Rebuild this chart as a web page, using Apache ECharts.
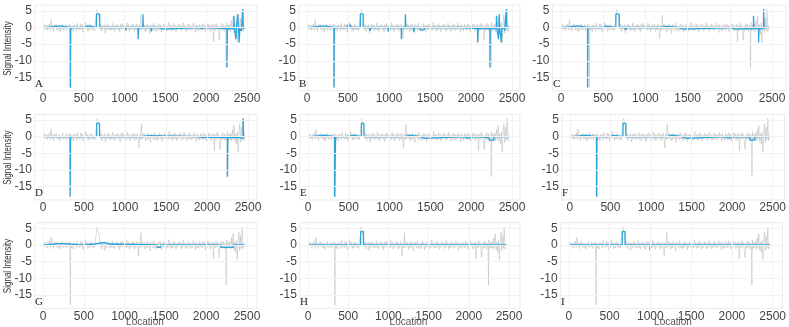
<!DOCTYPE html>
<html>
<head>
<meta charset="utf-8">
<title>Signal Intensity</title>
<script src="https://cdn.jsdelivr.net/npm/echarts@6/dist/echarts.min.js"></script>
<style>
html, body { margin: 0; padding: 0; background: #fff; }
#main { width: 789px; height: 327px; }
</style>
</head>
<body>
<div id="main"></div>
<script>
// raw signal (gray), one reading every 10 locations from 0
var rawStep = 10;
var rawNoise = [
    0.2, -0.6, 0.9, -0.3, 0.5, -1.0, 0.7, -0.4, 1.2, -0.8,     // 0
    2.3, -0.5, 0.6, -1.1, 0.8, -0.2, 1.0, -0.7, 0.4, -0.9,     // 100
    0.6, -1.3, 0.3, -0.5, 1.1, -0.8, 0.2, -0.6, 0.9, -1.0,     // 200
    0.5, -0.4, 1.0, -2.6, 0.7, -0.9, 0.4, -1.2, 0.8, -0.3,     // 300
    0.6, -1.0, 1.3, -0.5, 0.2, -0.8, 1.1, -0.6, 0.9, -1.4,     // 400
    0.4, -0.7, 1.5, -0.3, 0.8, -1.1, 0.5, -0.9, 1.0, -0.5,     // 500
    0.7, -0.8, 0.3, -1.0, 1.2, 2.6, 5.4, 4.5, 3.6, 2.2,        // 600
    -0.6, 1.0, -1.2, 0.5, -0.4, 0.9, -1.6, 0.6, -0.8, 1.1,     // 700
    -0.5, 0.8, -1.0, 0.4, -0.7, 1.3, -0.9, 0.6, -1.2, 0.7,     // 800
    -0.3, 1.0, -0.8, 0.5, -1.5, 0.9, -0.6, 1.2, -0.4, 0.7,     // 900
    -1.1, 0.5, -0.9, 1.4, -0.6, 0.8, -1.3, 0.4, -0.7, 1.0,     // 1000
    -0.5, 0.9, -1.2, 0.6, -0.8, 1.1, -0.4, -3.3, 0.7, -0.9,    // 1100
    3.7, -0.7, 1.0, -0.5, 0.8, -1.3, 0.6, -0.9, 1.2, -0.6,     // 1200
    0.5, -1.8, 0.9, -0.4, 0.7, -1.0, 1.3, -0.8, 0.4, -1.2,     // 1300
    0.6, -0.9, 1.1, -0.5, 0.8, -1.4, 0.5, -0.7, 1.0, -0.6,     // 1400
    0.9, -1.1, 0.4, -0.8, 1.6, -0.5, 0.7, -1.0, 0.6, -0.9,     // 1500
    1.2, -0.6, 0.8, -1.3, 0.5, -0.7, 1.0, -0.4, 0.9, -1.1,     // 1600
    0.6, -0.8, 1.4, -0.5, 0.7, -1.2, 0.4, -0.9, 1.1, -0.6,     // 1700
    0.8, -1.0, 0.5, -0.7, 1.3, -0.4, 0.6, -1.5, 0.9, -0.8,     // 1800
    0.4, -1.1, 1.0, -0.6, 0.7, -0.9, 1.2, -0.5, 0.8, -1.3,     // 1900
    0.5, -0.8, 1.1, -0.4, 0.9, -1.2, 0.6, -0.7, 1.0, -4.2,     // 2000
    0.7, -0.9, 1.3, -0.6, 0.8, -1.4, -3.8, 0.5, -1.0, 1.2,     // 2100
    -0.7, 0.9, -1.2, 0.6, -0.5, 1.5, -1.1, 0.8, -0.9, 1.1,     // 2200
    -1.3, 2.2, -0.8, 3.4, -1.5, 0.9, -2.2, 1.4, -4.5, 1.0,     // 2300
    3.9, -1.7, 2.8, -1.0, 5.4, -1.2, 0.6                       // 2400
];
var rawSpikeLoc = [335, 2245];
var rawSpikeVal = [-18, -12];

// fitted signal (blue): [location, level], level holds until the next location
var fitA = [[0,0],[50,0.5],[210,0],[335,-18],[340,0],[490,0.5],[550,0],[655,4],[695,0],
    [1010,-1],[1020,0],[1165,-3.5],[1170,0],[1225,4],[1230,0],[1325,-1.2],[1335,0],
    [1410,-0.5],[1470,0],[1900,-0.3],[1950,0],[2000,-0.3],[2255,-12],[2260,-0.3],
    [2340,3.5],[2345,-0.3],[2365,-3.5],[2370,-0.3],[2385,4],[2395,-0.3],[2405,-4.5],
    [2412,-0.3],[2432,-1],[2450,5.5],[2455,-0.3],[2470,-0.3]];
var fitB = [[0,0],[40,0.5],[200,0],[328,-18],[333,0],[495,0.7],[530,0],[650,4],[685,0],
    [765,-1],[785,0],[990,-1.2],[1005,0],[1150,-3.5],[1155,0],[1200,4],[1205,0],
    [1300,-1.3],[1315,0],[1380,-0.7],[1430,0],[1900,-0.3],[2080,-4.5],[2087,-0.3],
    [2230,-12],[2235,-0.3],[2310,3.5],[2315,-0.3],[2335,-3.5],[2345,4],[2350,-0.3],
    [2370,-4.5],[2377,-0.3],[2410,-1],[2430,5.5],[2436,0],[2470,0]];
var fitC = [[0,0],[50,0.5],[200,0],[315,-18],[320,0],[480,0.4],[530,0],[650,4],[690,0],
    [760,-0.7],[780,0],[1180,0.3],[1250,0],[1390,-0.5],[1450,0],[2000,-0.5],[2060,-0.3],
    [2280,3.5],[2285,-0.3],[2340,-4.5],[2346,-0.3],[2400,5.5],[2406,0],[2470,0]];
var fitD = [[0,0],[330,-18],[335,0],[655,4],[690,0],[1200,0.3],[1300,0],[1880,-0.3],
    [1960,-0.1],[2000,-0.3],[2250,-12],[2255,-0.3],[2390,-0.5],[2440,5.5],[2447,0],[2470,0]];
var fitE = [[0,0],[40,0.5],[200,0],[325,-18],[338,0],[480,0.5],[560,0],[655,4],[685,0],
    [1190,0.5],[1250,0],[1380,-0.5],[1430,0],[1900,-0.4],[1960,0],[2050,-0.3],
    [2220,-1],[2280,0],[2470,0]];
var fitF = [[0,0],[40,0.5],[200,0],[328,-18],[333,0],[480,0.4],[540,0],[655,4],[690,0],
    [1200,0.5],[1260,0],[1380,-0.5],[1440,0],[1900,-0.4],[1960,0],[2050,-0.1],
    [2220,-1],[2280,0],[2470,0]];
var fitG = [[0,0],[40,0.5],[200,0],[480,0.3],[630,0.8],[760,0.3],[800,0],[1400,-0.7],
    [1440,0],[2180,-0.7],[2330,0],[2470,0]];
var fitH = [[0,0],[655,4],[690,0],[2470,0]];
var fitI = [[0,0],[655,4],[690,0],[995,-1.5],[1008,0],[2470,0]];

var panelNames = ['A', 'B', 'C', 'D', 'E', 'F', 'G', 'H', 'I'];
var fits = [fitA, fitB, fitC, fitD, fitE, fitF, fitG, fitH, fitI];
var xTicks = [0, 500, 1000, 1500, 2000, 2500];
var yTicks = [-15, -10, -5, 0, 5];

// layout: px of location 0, px of location 2500, plot right
var panelX = [
    [43, 247, 257], [307, 512, 520], [561, 773, 787],
    [43, 248, 257], [308, 512, 520], [570, 775, 787],
    [43, 247, 257], [308, 509, 520], [569, 777, 787]
];
var rowZero = [27.5, 136.7, 245];   // px of signal 0 in each row
var yPx = 3.33;                      // px per unit of signal
var yMin = -19, yMax = 6.7;
var xMin = -100;

var labelFont = 'Liberation Sans, Arial, sans-serif';

function xLabel(v) { return (v % 500 === 0 && v >= 0 && v <= 2500) ? String(v) : ''; }
function yLabel(v) { var r = Math.round(v); return (r % 5 === 0 && r <= 5 && r >= -15) ? String(r) : ''; }

function buildOption() {
    var grids = [], xAxes = [], yAxes = [], series = [], graphics = [];

    for (var p = 0; p < 9; p++) {
        var rawData = [];
        for (var i = 0; i < rawNoise.length; i++) rawData.push([i * rawStep, rawNoise[i]]);
        for (var j = 0; j < rawSpikeLoc.length; j++) rawData.push([rawSpikeLoc[j], rawSpikeVal[j]]);
        rawData.sort(function (a, b) { return a[0] - b[0]; });

        var gridLines = [];
        xTicks.forEach(function (v) { gridLines.push({ xAxis: v }); });
        yTicks.forEach(function (v) { gridLines.push({ yAxis: v }); });

        var px = panelX[p];
        var row = Math.floor(p / 3);
        var s = (px[1] - px[0]) / 2500;
        var gLeft = px[0] + xMin * s;
        var gTop = rowZero[row] - yMax * yPx;
        var gHeight = (yMax - yMin) * yPx;
        grids.push({
            left: gLeft, top: gTop, width: px[2] - gLeft, height: gHeight,
            show: true, borderColor: '#ebebeb', borderWidth: 1
        });
        xAxes.push({
            type: 'value', gridIndex: p,
            min: xMin, max: 2500 + (px[2] - px[1]) / s, interval: 100,
            axisLine: { show: false },
            axisTick: { show: false },
            axisLabel: { formatter: xLabel, color: '#444', fontSize: 12, margin: 2, fontFamily: labelFont },
            splitLine: { show: false }
        });
        yAxes.push({
            type: 'value', gridIndex: p, min: yMin, max: yMax, interval: 1,
            axisLine: { show: false },
            axisTick: { show: false },
            axisLabel: { formatter: yLabel, color: '#444', fontSize: 12, margin: 3, fontFamily: labelFont },
            splitLine: { show: false }
        });
        series.push({
            type: 'line', xAxisIndex: p, yAxisIndex: p, data: rawData,
            showSymbol: false, silent: true, z: 2,
            lineStyle: { color: '#b4b4b4', width: 0.6, opacity: 0.8 },
            markLine: {
                silent: true, symbol: 'none', label: { show: false },
                lineStyle: { color: '#f2f2f2', width: 1, type: 'solid' },
                data: gridLines
            }
        });
        series.push({
            type: 'line', xAxisIndex: p, yAxisIndex: p, data: fits[p],
            step: 'end', showSymbol: false, silent: true, z: 3,
            lineStyle: { color: '#2aa6de', width: 1.3 }
        });
        graphics.push({
            type: 'text', x: px[0] - 8, y: gTop + gHeight - 1,
            style: { text: panelNames[p], font: '11px "Liberation Serif", serif', fill: '#222', verticalAlign: 'bottom' }
        });
        if (p % 3 === 0) {
            graphics.push({
                type: 'text', x: 8, y: rowZero[row] + 21, rotation: Math.PI / 2, scaleX: 0.8,
                style: {
                    text: 'Signal Intensity', font: '10px ' + labelFont,
                    fill: '#333', align: 'center', verticalAlign: 'middle'
                }
            });
        }
        if (row === 2) {
            graphics.push({
                type: 'text', x: (px[0] + px[1]) / 2, y: 322.5,
                style: { text: 'Location', font: '10px ' + labelFont, fill: '#555', align: 'center', verticalAlign: 'middle' }
            });
        }
    }

    return {
        animation: false,
        backgroundColor: '#fff',
        grid: grids,
        xAxis: xAxes,
        yAxis: yAxes,
        series: series,
        graphic: graphics
    };
}

var myChart = echarts.init(document.getElementById('main'));
myChart.setOption(buildOption());
</script>
</body>
</html>
